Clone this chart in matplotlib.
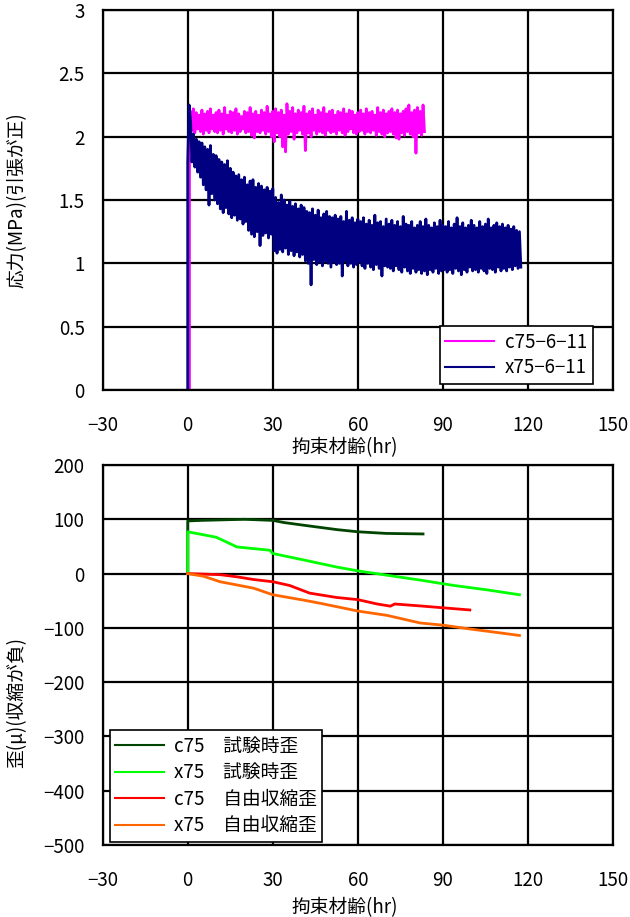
import matplotlib
matplotlib.use("Agg")
import matplotlib.pyplot as plt
import numpy as np

plt.rcParams['font.family'] = ['Noto Sans CJK JP', 'DejaVu Sans']
plt.rcParams['axes.unicode_minus'] = True

# ---- 応力 (上段) ----
# 立ち上がり部分 (材齢, 応力)
c75_rise_t = [0.6, 0.6, 1.0]
c75_rise_v = [0.0, 1.85, 2.10]
x75_rise_t = [0.0, 0.0, 0.5]
x75_rise_v = [0.0, 1.80, 2.25]

# 1時間ごとの上側/下側の値
c75_hi = [2.20, 2.22, 2.19, 2.17, 2.21, 2.18, 2.20, 2.22, 2.17, 2.19,
          2.21, 2.18, 2.23, 2.17, 2.20, 2.19, 2.22, 2.18, 2.16, 2.20,
          2.19, 2.23, 2.18, 2.20, 2.17, 2.21, 2.19, 2.24, 2.18, 2.20,
          2.22, 2.19, 2.21, 2.17, 2.26, 2.20, 2.23, 2.18, 2.21, 2.19,
          2.24, 2.18, 2.20, 2.22, 2.17, 2.21, 2.19, 2.23, 2.18, 2.20,
          2.21, 2.17, 2.20, 2.19, 2.22, 2.18, 2.21, 2.20, 2.17, 2.19,
          2.21, 2.18, 2.22, 2.19, 2.20, 2.17, 2.23, 2.19, 2.21, 2.18,
          2.20, 2.22, 2.19, 2.21, 2.18, 2.20, 2.22, 2.25, 2.19, 2.21,
          2.23, 2.20, 2.25]
c75_lo = [2.05, 2.03, 2.06, 2.04, 2.02, 2.05, 2.03, 2.06, 2.04, 2.03,
          2.05, 2.02, 2.06, 2.04, 2.03, 2.05, 2.02, 2.04, 2.06, 2.03,
          2.04, 2.01, 1.99, 2.04, 2.03, 2.05, 2.02, 2.04, 2.00, 1.96,
          2.03, 2.00, 1.92, 1.88, 2.02, 2.04, 1.98, 2.03, 2.05, 2.02,
          1.89, 2.03, 2.00, 2.05, 2.02, 2.04, 2.03, 2.01, 2.05, 2.03,
          2.04, 2.02, 2.05, 2.03, 2.01, 2.04, 2.06, 2.03, 2.02, 2.04,
          2.05, 2.02, 2.04, 2.03, 2.05, 2.01, 2.04, 2.02, 2.00, 2.03,
          2.04, 2.02, 1.99, 1.98, 2.03, 2.01, 2.04, 2.02, 2.00, 1.87,
          2.03, 2.01, 2.04]

x75_hi = [2.12, 2.02, 1.98, 1.96, 1.95, 1.92, 1.90, 1.93, 1.86, 1.85,
          1.82, 1.80, 1.78, 1.81, 1.75, 1.72, 1.69, 1.70, 1.66, 1.68,
          1.62, 1.65, 1.66, 1.60, 1.63, 1.61, 1.58, 1.60, 1.57, 1.59,
          1.52, 1.48, 1.54, 1.50, 1.46, 1.49, 1.45, 1.47, 1.43, 1.46,
          1.44, 1.41, 1.40, 1.43, 1.38, 1.42, 1.36, 1.39, 1.41, 1.37,
          1.36, 1.38, 1.35, 1.37, 1.33, 1.41, 1.34, 1.36, 1.32, 1.35,
          1.33, 1.36, 1.31, 1.34, 1.30, 1.38, 1.32, 1.33, 1.29, 1.35,
          1.31, 1.34, 1.30, 1.33, 1.29, 1.37, 1.31, 1.30, 1.33, 1.28,
          1.30, 1.33, 1.29, 1.35, 1.30, 1.28, 1.32, 1.29, 1.34, 1.30,
          1.29, 1.33, 1.28, 1.31, 1.36, 1.29, 1.32, 1.28, 1.30, 1.34,
          1.30, 1.28, 1.33, 1.29, 1.31, 1.35, 1.28, 1.30, 1.32, 1.29,
          1.31, 1.28, 1.30, 1.27, 1.29, 1.26, 1.25]
x75_lo = [1.80, 1.76, 1.72, 1.68, 1.62, 1.58, 1.46, 1.55, 1.50, 1.47,
          1.43, 1.40, 1.44, 1.39, 1.36, 1.38, 1.34, 1.35, 1.31, 1.33,
          1.26, 1.23, 1.21, 1.25, 1.14, 1.22, 1.24, 1.20, 1.23, 1.10,
          1.08, 1.11, 1.09, 1.12, 1.07, 1.10, 1.06, 1.09, 1.05, 1.07,
          1.02, 1.00, 0.83, 1.03, 0.99, 1.01, 0.98, 1.02, 1.00, 0.97,
          1.01, 0.99, 1.00, 0.90, 1.02, 0.98, 1.00, 0.97, 0.99, 1.01,
          0.98, 0.96, 1.00, 0.97, 0.95, 0.99, 0.96, 0.90, 0.98, 0.97,
          0.96, 0.94, 0.98, 0.95, 0.93, 0.97, 0.94, 0.92, 0.96, 0.93,
          0.95, 0.92, 0.94, 0.91, 0.95, 0.93, 0.96, 0.92, 0.94, 0.95,
          0.93, 0.95, 0.92, 0.96, 0.94, 0.91, 0.95, 0.93, 0.97, 0.94,
          0.95, 0.93, 0.96, 0.94, 0.92, 0.96, 0.95, 0.93, 0.97, 0.94,
          0.96, 0.94, 0.97, 0.95, 0.98, 0.96, 0.97]

# ---- 歪 (下段) ----
c75_test_t = [0, 0, 5, 20, 30, 34, 41, 52.6, 60, 70, 83]
c75_test_v = [0, 97, 98, 100, 98, 94, 89, 81, 77, 74, 73]
x75_test_t = [0, 0, 5, 10, 17.4, 29, 30, 41, 52.6, 60, 70.3, 82, 94, 105.6, 117]
x75_test_v = [0, 77, 72, 67, 49, 43, 37, 25, 12, 5, -3, -12, -22, -30, -39]
c75_free_t = [0, 11.4, 17.4, 23.3, 30, 36, 43, 52.5, 60, 66.8, 71.5, 73, 83, 90, 99.5]
c75_free_v = [0, -2, -6, -11, -15, -22, -36, -44, -48, -56, -60, -56, -60, -63, -67]
x75_free_t = [0, 5.6, 11.4, 17.4, 23.3, 30, 41, 47, 60, 70.3, 82, 90, 99.5, 111.3, 117]
x75_free_v = [0, -5, -15, -21, -27, -39, -49, -55, -69, -77, -91, -95, -102, -110, -114]

x_ticks = [-30, 0, 30, 60, 90, 120, 150]
stress_ticks = [0, 0.5, 1, 1.5, 2, 2.5, 3]
stress_labels = ['0', '0.5', '1', '1.5', '2', '2.5', '3']
strain_ticks = [200, 100, 0, -100, -200, -300, -400, -500]

FS = 13.5


def zigzag(rise_t, rise_v, hi, lo, start):
    # 1時間ごとに上側→下側を交互につなぐ
    hours = np.arange(start, start + len(hi))
    t = np.empty(2 * len(hi))
    v = np.empty(2 * len(hi))
    t[0::2] = hours
    t[1::2] = hours + 0.5
    v[0::2] = hi
    v[1::2] = lo
    return np.concatenate([rise_t, t]), np.concatenate([rise_v, v])


def style_axes(ax, yticks, ylim, ylabels=None):
    ax.set_xlim(-30, 150)
    ax.set_ylim(*ylim)
    ax.set_xticks(x_ticks)
    ax.set_xticklabels([str(v).replace('-', '\u2212') for v in x_ticks])
    ax.set_yticks(yticks)
    if ylabels is None:
        ylabels = [str(v).replace('-', '\u2212') for v in yticks]
    ax.set_yticklabels(ylabels)
    ax.grid(True, color='black', linewidth=1.6)
    for s in ax.spines.values():
        s.set_linewidth(1.6)
    ax.tick_params(axis='x', direction='in', length=0, pad=18, labelsize=FS)
    ax.tick_params(axis='y', direction='in', length=0, pad=13, labelsize=FS)
    ax.set_axisbelow(True)


fig = plt.figure(figsize=(6.30, 9.17), dpi=100)
ax1 = fig.add_axes([0.163, 0.5747, 0.810, 0.4144])
ax2 = fig.add_axes([0.163, 0.0785, 0.810, 0.4144])

t, v = zigzag(c75_rise_t, c75_rise_v, c75_hi, c75_lo, 1)
ax1.plot(t, v, color='#FF00FF', linewidth=2.0, label='c75\u22126\u221211')
t, v = zigzag(x75_rise_t, x75_rise_v, x75_hi, x75_lo, 1)
ax1.plot(t, v, color='#000080', linewidth=2.0, label='x75\u22126\u221211')
style_axes(ax1, stress_ticks, (0, 3), stress_labels)
ax1.set_ylabel('応力(MPa)(引張が正)', fontsize=FS)
ax1.yaxis.set_label_coords(-0.148, 0.5)
ax1.set_xlabel('拘束材齢(hr)', fontsize=FS)
ax1.xaxis.set_label_coords(0.475, -0.125)
leg1 = ax1.legend(loc='lower right', bbox_to_anchor=(0.961, 0.016), borderaxespad=0,
                  fontsize=FS, frameon=True, fancybox=False, edgecolor='black',
                  framealpha=1, handlelength=2.6, labelspacing=0.25, borderpad=0.3,
                  handletextpad=0.6)
leg1.get_frame().set_linewidth(1.2)
for line in leg1.get_lines():
    line.set_linewidth(1.5)

ax2.plot(c75_test_t, c75_test_v, color='#004400', linewidth=2, label='c75\u3000試験時歪')
ax2.plot(x75_test_t, x75_test_v, color='#00FF00', linewidth=2, label='x75\u3000試験時歪')
ax2.plot(c75_free_t, c75_free_v, color='#FF0000', linewidth=2, label='c75\u3000自由収縮歪')
ax2.plot(x75_free_t, x75_free_v, color='#FF6600', linewidth=2, label='x75\u3000自由収縮歪')
style_axes(ax2, strain_ticks, (-500, 200))
ax2.set_ylabel('歪(μ)(収縮が負)', fontsize=FS)
ax2.yaxis.set_label_coords(-0.148, 0.376)
ax2.set_xlabel('拘束材齢(hr)', fontsize=FS)
ax2.xaxis.set_label_coords(0.475, -0.138)
leg2 = ax2.legend(loc='lower left', bbox_to_anchor=(0.014, 0.008), borderaxespad=0,
                  fontsize=FS, frameon=True, fancybox=False, edgecolor='black',
                  framealpha=1, handlelength=2.6, labelspacing=0.3, borderpad=0.3,
                  handletextpad=0.5)
leg2.get_frame().set_linewidth(1.2)
for line in leg2.get_lines():
    line.set_linewidth(1.5)

fig.savefig('out.png', dpi=100)
